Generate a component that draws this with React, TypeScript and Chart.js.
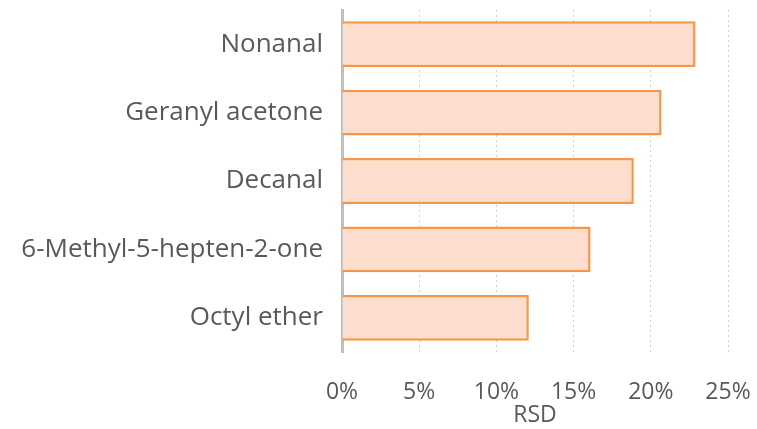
import React, { useEffect, useRef } from "react";
import { Chart, registerables } from "chart.js";

Chart.register(...registerables);

const categories = ["Nonanal", "Geranyl acetone", "Decanal", "6-Methyl-5-hepten-2-one", "Octyl ether"];
const rsdValues = [22.9, 20.7, 18.9, 16.1, 12.1];
const xTicks = [0, 5, 10, 15, 20, 25];

export default function App() {
  const ref = useRef<HTMLCanvasElement | null>(null);
  useEffect(() => {
    if (!ref.current) return;
    const font = "'Open Sans', 'Liberation Sans', sans-serif";
    const chart = new Chart(ref.current, {
      type: "bar",
      data: {
        labels: categories,
        datasets: [
          {
            data: rsdValues,
            backgroundColor: "#FCDDCE",
            borderColor: "#F79646",
            borderWidth: 2.5,
            barPercentage: 0.67,
            categoryPercentage: 1,
          },
        ],
      },
      options: {
        indexAxis: "y",
        animation: false,
        responsive: false,
        maintainAspectRatio: false,
        layout: { padding: { top: 10, right: 29, left: 0, bottom: 0 } },
        plugins: { legend: { display: false }, tooltip: { enabled: false } },
        scales: {
          x: {
            min: 0,
            max: 25,
            afterBuildTicks: (s: any) => {
              s.ticks = xTicks.map((v) => ({ value: v }));
            },
            afterFit: (s: any) => {
              s.height = 77;
              s.paddingLeft = 0;
              s.paddingRight = 0;
            },
            ticks: {
              callback: (v: any) => v + "%",
              color: "#595959",
              font: { family: font, size: 23 },
              padding: 27,
              maxRotation: 0,
            },
            grid: {
              drawTicks: false,
              color: (c: any) => (c.tick && c.tick.value === 0 ? "rgba(0,0,0,0)" : "#D0D0D0"),
              lineWidth: 1,
              tickLength: 0,
            },
            border: { display: false, dash: [2, 3] },
            title: {
              display: true,
              text: "RSD",
              color: "#595959",
              font: { family: font, size: 23 },
              padding: { top: 0, bottom: 0 },
            },
          },
          y: {
            afterFit: (s: any) => {
              s.width = 342;
              s.paddingTop = 0;
              s.paddingBottom = 0;
            },
            ticks: {
              color: "#595959",
              font: { family: font, size: 26 },
              padding: 19,
            },
            grid: { display: false, drawTicks: false },
            border: { display: true, color: "#BFBFBF", width: 3 },
          },
        },
      },
    });
    return () => chart.destroy();
  }, []);
  return (
    <div style={{ position: "fixed", left: 0, top: 0, width: 757, height: 429, background: "#fff" }}>
      <canvas ref={ref} width={757} height={429} />
    </div>
  );
}
